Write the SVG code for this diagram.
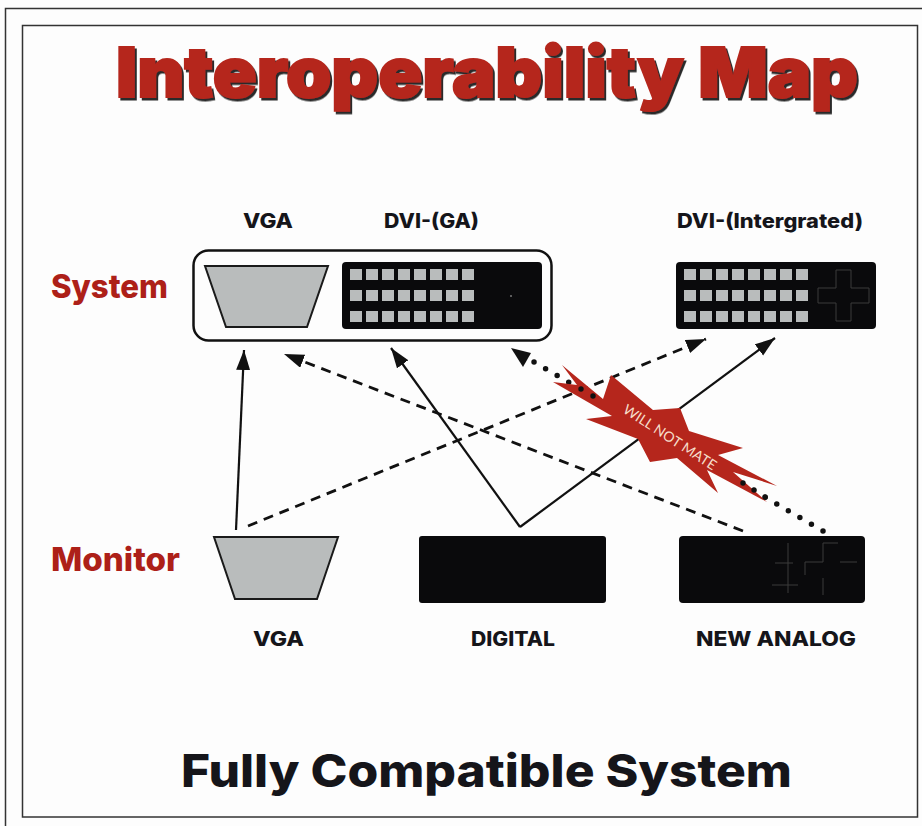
<svg xmlns="http://www.w3.org/2000/svg" width="922" height="826" viewBox="0 0 922 826">
<style>
text{font-family:"Inter","Liberation Sans",sans-serif;font-weight:800;fill:#15151a}
.lbl{font-size:20px}
.side{font-size:32px;fill:#ad2018;font-weight:800}
.plug{fill:#0a0a0c}
.vga{fill:#b9bcbc;stroke:#1a1a1a;stroke-width:2}
.pin{fill:#b9bcbc}
.ln{fill:none;stroke:#111;stroke-width:2.2}
.dash{stroke-dasharray:10 7;stroke-width:2.8}
.dot{stroke-dasharray:0 13.39;stroke-linecap:round;stroke-width:5.5}
.faint{fill:none;stroke:#3a3a3a;stroke-width:1}
</style>
<defs>
<filter id="sh" x="-5%" y="-10%" width="110%" height="120%"><feDropShadow dx="2" dy="2.500" stdDeviation="0.300" flood-color="#2a2a2a"/></filter>
<marker id="a" markerUnits="userSpaceOnUse" markerWidth="22" markerHeight="16" refX="20" refY="7" orient="auto"><path d="M0 0L20 7L0 14Z" fill="#111"/></marker>
<g id="pins">
<rect x="0" y="0" width="12" height="11" class="pin"/><rect x="16" y="0" width="12" height="11" class="pin"/><rect x="32" y="0" width="12" height="11" class="pin"/><rect x="48" y="0" width="12" height="11" class="pin"/><rect x="64" y="0" width="12" height="11" class="pin"/><rect x="80" y="0" width="12" height="11" class="pin"/><rect x="96" y="0" width="12" height="11" class="pin"/><rect x="112" y="0" width="12" height="11" class="pin"/>
<rect x="0" y="21" width="12" height="11" class="pin"/><rect x="16" y="21" width="12" height="11" class="pin"/><rect x="32" y="21" width="12" height="11" class="pin"/><rect x="48" y="21" width="12" height="11" class="pin"/><rect x="64" y="21" width="12" height="11" class="pin"/><rect x="80" y="21" width="12" height="11" class="pin"/><rect x="96" y="21" width="12" height="11" class="pin"/><rect x="112" y="21" width="12" height="11" class="pin"/>
<rect x="0" y="42" width="12" height="11" class="pin"/><rect x="16" y="42" width="12" height="11" class="pin"/><rect x="32" y="42" width="12" height="11" class="pin"/><rect x="48" y="42" width="12" height="11" class="pin"/><rect x="64" y="42" width="12" height="11" class="pin"/><rect x="80" y="42" width="12" height="11" class="pin"/><rect x="96" y="42" width="12" height="11" class="pin"/><rect x="112" y="42" width="12" height="11" class="pin"/>
</g>
</defs>
<rect width="922" height="826" fill="#fdfdfd"/>
<path d="M5.500 826V8.500H922" fill="none" stroke="#333" stroke-width="1.500"/>
<rect x="22.500" y="25.500" width="895" height="791.500" fill="none" stroke="#333" stroke-width="1.500"/>
<g id="title">
<text x="116" y="97" font-size="69" textLength="742" lengthAdjust="spacingAndGlyphs" filter="url(#sh)" style="font-weight:900;fill:#b5261c" stroke="#b5261c" stroke-width="2">Interoperability Map</text>
</g>
<g id="footer"><text x="181" y="787" font-size="45" textLength="611" lengthAdjust="spacingAndGlyphs" style="font-weight:800">Fully Compatible System</text></g>
<g id="connectors">
<path class="ln" d="M236 530L244 350" marker-end="url(#a)"/>
<path class="ln dash" d="M248 526L706 339" marker-end="url(#a)"/>
<path class="ln" d="M520 527L391 348" marker-end="url(#a)"/>
<path class="ln" d="M520 527L775 338" marker-end="url(#a)"/>
<path class="ln dash" d="M743 531L284 354" marker-end="url(#a)"/>
<path class="ln dot" d="M823 531L534 362"/>
<path d="M511 348L531 353L523 367Z" fill="#111"/>
</g>
<g id="system-label"><text class="side" x="51" y="298" textLength="117" lengthAdjust="spacingAndGlyphs">System</text></g>
<g id="monitor-label"><text class="side" x="51" y="571" textLength="129" lengthAdjust="spacingAndGlyphs">Monitor</text></g>
<g id="system-group"><rect x="193.500" y="250.500" width="358" height="90" rx="15" fill="none" stroke="#111" stroke-width="2.500"/></g>
<g id="sys-vga">
<text class="lbl" x="243" y="228" textLength="50" lengthAdjust="spacingAndGlyphs">VGA</text>
<path class="vga" d="M205 266H328L307 327H226Z"/>
</g>
<g id="sys-dvi-ga">
<text class="lbl" x="384" y="228" textLength="95" lengthAdjust="spacingAndGlyphs">DVI-(GA)</text>
<rect class="plug" x="342" y="262" width="200" height="67" rx="4"/>
<use href="#pins" x="350" y="269"/>
<circle cx="511" cy="296" r="1" fill="#777"/>
</g>
<g id="sys-dvi-int">
<text class="lbl" x="677" y="228" textLength="186" lengthAdjust="spacingAndGlyphs">DVI-(Intergrated)</text>
<rect class="plug" x="676" y="262" width="200" height="67" rx="4"/>
<use href="#pins" x="684" y="269"/>
<path class="faint" d="M836 270H851V288H869V303H851V321H836V303H818V288H836Z"/>
</g>
<g id="mon-vga">
<path class="vga" d="M214 537H338L317 599H235Z"/>
<text class="lbl" x="253" y="646" textLength="51" lengthAdjust="spacingAndGlyphs">VGA</text>
</g>
<g id="mon-digital">
<rect class="plug" x="419" y="536" width="187" height="67" rx="3"/>
<text class="lbl" x="471" y="646" textLength="84" lengthAdjust="spacingAndGlyphs">DIGITAL</text>
</g>
<g id="mon-new-analog">
<rect class="plug" x="679" y="536" width="186" height="67" rx="4"/>
<path class="faint" d="M788 543V593M772 585H798M775 563H793M838 543H823V562H805V575M840 562H857M823 578V595"/>
<text class="lbl" x="696" y="646" textLength="160" lengthAdjust="spacingAndGlyphs">NEW ANALOG</text>
</g>
<g id="will-not-mate">
<path d="M562 365L603 399L611 375L653 410L680 408L689 431L743 448L718 455L777 486L733 472L767 502L707 470L718 493L677 458L650 462L638 439L586 419L612 416L553 382L577 385Z" fill="#b5261c"/>
<text x="0" y="0" transform="translate(622 412) rotate(33)" font-size="14" textLength="108" lengthAdjust="spacingAndGlyphs" style="fill:#f6dcc8;font-family:'Lato','Liberation Sans',sans-serif;font-weight:400">WILL NOT MATE</text>
<circle cx="581" cy="389" r="2.700" fill="#111"/><circle cx="593" cy="396" r="2.700" fill="#111"/><circle cx="743" cy="483" r="2.700" fill="#111"/><circle cx="754" cy="490" r="2.700" fill="#111"/><circle cx="765" cy="497" r="2.700" fill="#111"/>
</g>
</svg>
